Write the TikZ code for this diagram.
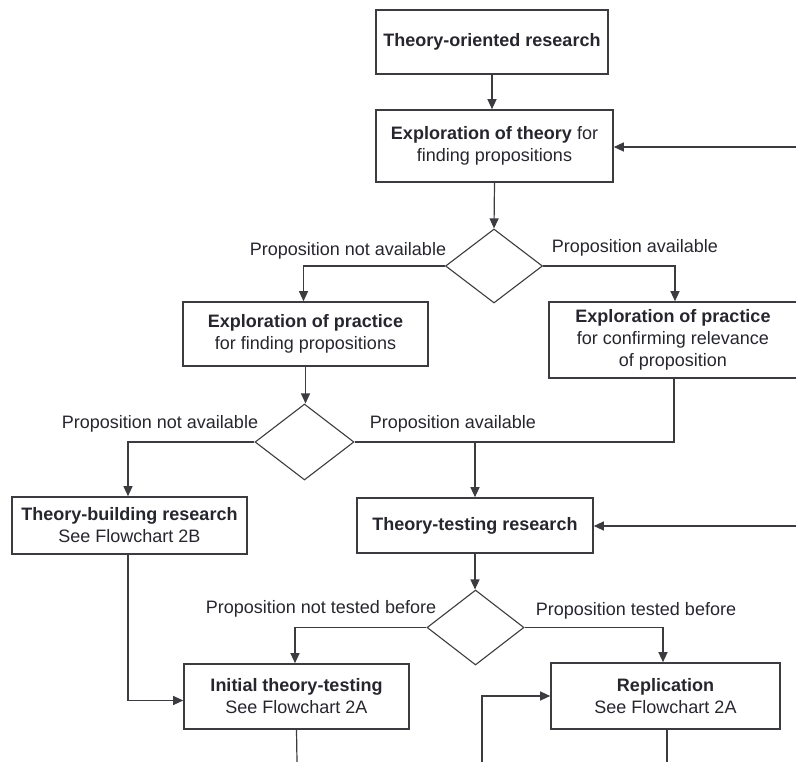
\documentclass[tikz,border=0pt]{standalone}
\usepackage{fontspec}
\setmainfont{Liberation Sans}
\usetikzlibrary{arrows.meta,shapes.geometric}
\definecolor{inkc}{HTML}{26262E}
\definecolor{linec}{HTML}{3C3C40}
\tikzset{
  box/.style={draw=linec, line width=1.6pt, rectangle, inner sep=0pt,
    align=center, text=inkc, font=\fontsize{18}{22}\selectfont},
  decision/.style={draw=linec, line width=1.1pt, diamond, inner sep=0pt},
  lbl/.style={text=inkc, font=\fontsize{18}{22}\selectfont, inner sep=0pt},
  conn/.style={draw=linec, line width=1.2pt},
  arr/.style={conn, -{Triangle[length=10pt,width=9pt]}},
}
\begin{document}
\begin{tikzpicture}[x=1pt,y=-1pt]
\useasboundingbox (0,0) rectangle (796,762);
\clip (0,0) rectangle (796,762);

% process boxes
\node[box, minimum width=232pt, minimum height=64pt] (b1) at (492,42)
  {\bfseries Theory-oriented research};
\node[box, minimum width=237pt, minimum height=72pt] (b2) at (494.5,146)
  {\textbf{Exploration of theory} for\\finding propositions};
\node[box, minimum width=245pt, minimum height=64pt] (b3) at (305.5,334)
  {\textbf{Exploration of practice}\\for finding propositions};
\node[box, minimum width=248pt, minimum height=76pt] (b4) at (673,340)
  {\textbf{Exploration of practice}\\for confirming relevance\\of proposition};
\node[box, minimum width=235pt, minimum height=57pt] (b5) at (129.5,525.5)
  {\textbf{Theory-building research}\\See Flowchart 2B};
\node[box, minimum width=236pt, minimum height=55pt] (b6) at (475,525.5)
  {\bfseries Theory-testing research};
\node[box, minimum width=225pt, minimum height=65pt] (b7) at (296.5,696.5)
  {\textbf{Initial theory-testing}\\See Flowchart 2A};
\node[box, minimum width=229pt, minimum height=66pt] (b8) at (665.5,696)
  {\textbf{Replication}\\See Flowchart 2A};

% decisions
\node[decision, minimum width=97pt, minimum height=74pt] (d1) at (494,266) {};
\node[decision, minimum width=99pt, minimum height=76pt] (d2) at (304.5,442) {};
\node[decision, minimum width=97pt, minimum height=75pt] (d3) at (475.5,627.5) {};

% branch labels
\node[lbl] (l1) at (348,251) {Proposition not available};
\node[lbl] (l2) at (635,248) {Proposition available};
\node[lbl] (l3) at (160,424) {Proposition not available};
\node[lbl] (l4) at (453,424) {Proposition available};
\node[lbl] (l5) at (321,609) {Proposition not tested before};
\node[lbl] (l6) at (636,611) {Proposition tested before};

% free ends at the picture edges
\coordinate (in1) at (796,147);
\coordinate (in2) at (796,526);
\coordinate (in3) at (482,762);
\coordinate (out1) at (297,762);
\coordinate (out2) at (667,762);
\coordinate (j1) at (475,442);

% connectors
\draw[arr] (b1.south) -- (b1.south |- b2.north);
\draw[arr] (in1) -- (b2.east |- in1);
\draw[arr] (b2.south) -- (d1.north);
\draw[arr] (d1.west) -| ([xshift=-2pt]b3.north);
\draw[arr] (d1.east) -| ([xshift=2pt]b4.north);
\draw[arr] (b3.south) -- (b3.south |- d2.north);
\draw[arr] (d2.west) -| ([xshift=-1.5pt]b5.north);
\draw[arr] (d2.east) -| (b6.north);
\draw[conn] ([xshift=1pt]b4.south) |- (j1);
\draw[arr] (in2) -- (b6.east |- in2);
\draw[arr] (b6.south) -- (b6.south |- d3.north);
\draw[arr] (d3.west) -| ([xshift=-1.5pt]b7.north);
\draw[arr] (d3.east) -| ([xshift=-2.5pt]b8.north);
\draw[arr] ([xshift=-1.5pt]b5.south) |- ([yshift=-4pt]b7.west);
\draw[arr] (in3) |- (b8.west);
\draw[conn] (b7.south) -- (out1);
\draw[conn] ([xshift=1.5pt]b8.south) -- (out2);
\end{tikzpicture}
\end{document}
